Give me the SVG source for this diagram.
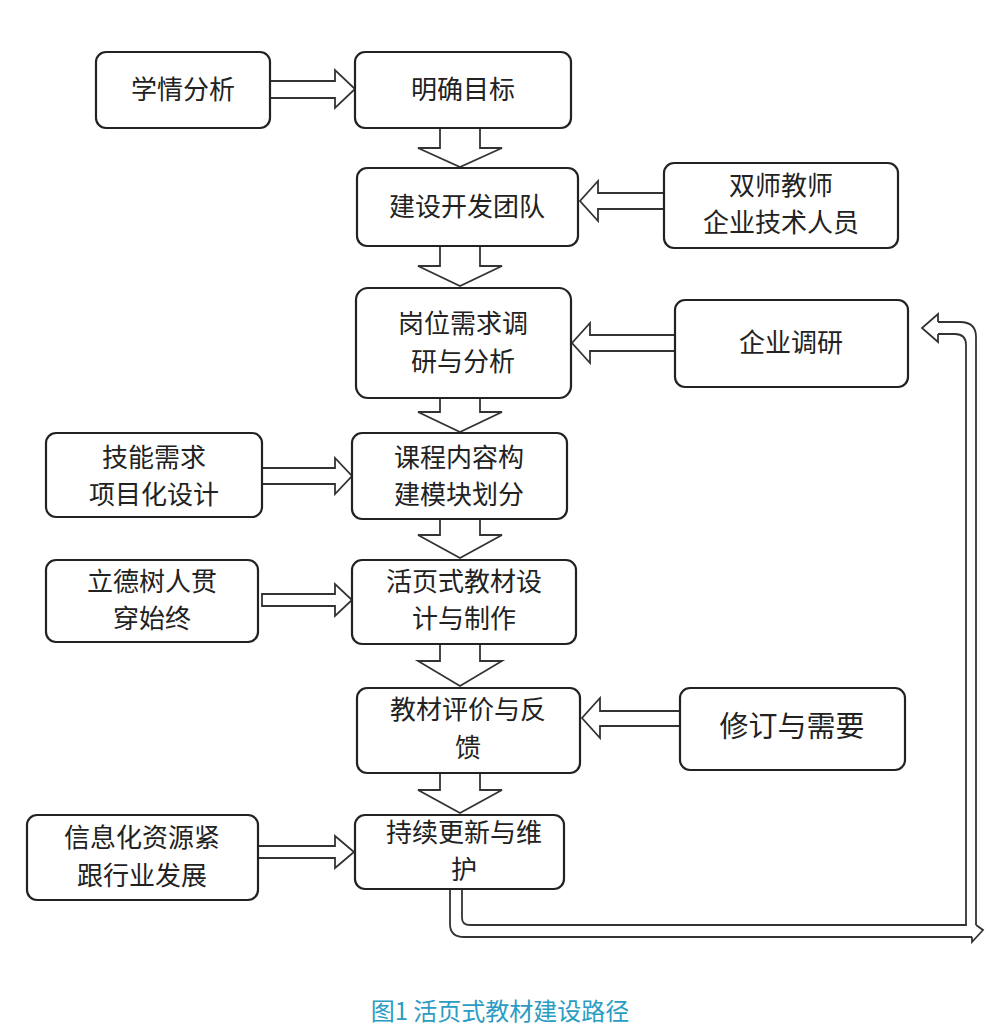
<svg xmlns="http://www.w3.org/2000/svg" width="1001" height="1036" viewBox="0 0 1001 1036">
<style>
.b{fill:#fff;stroke:#222;stroke-width:2.2}
.t{font-family:"Noto Sans CJK SC",sans-serif;font-size:26px;fill:#222;text-anchor:middle}
.a{fill:#fff;stroke:#333;stroke-width:1.8;stroke-linejoin:miter}
.l{fill:none;stroke:#333;stroke-width:1.8}
</style>
<rect width="1001" height="1036" fill="#fff"/>
<g id="connectors">
<path class="a" d="M270,81 H335 V70 L355,89 L335,108 V98 H270 Z"/>
<path class="a" d="M440,128 V148 H418 L460,167 L502,148 H480 V128 Z"/>
<path class="a" d="M440,246 V266 H418 L460,286 L502,266 H480 V246 Z"/>
<path class="a" d="M440,398 V412 H418 L460,432 L502,412 H480 V398 Z"/>
<path class="a" d="M440,519 V535 H418 L460,558 L502,535 H480 V519 Z"/>
<path class="a" d="M440,644 V661 H418 L460,686 L502,661 H480 V644 Z"/>
<path class="a" d="M440,773 V790 H418 L460,813 L502,790 H480 V773 Z"/>
<path class="a" d="M664,193 H598 V181 L580,201 L598,221 V209 H664 Z"/>
<path class="a" d="M675,335 H590 V323 L572,343 L590,363 V351 H675 Z"/>
<path class="a" d="M680,711 H600 V698 L582,718 L600,738 V726 H680 Z"/>
<path class="a" d="M262,468 H335 V458 L352,476 L335,494 V484 H262 Z"/>
<path class="a" d="M262,594 H335 V584 L352,600 L335,616 V606 H262 Z"/>
<path class="a" d="M258,846 H335 V836 L354,852 L335,868 V858 H258 Z"/>
<path class="l" d="M450,889 V924 Q450,937 464,937 H972"/>
<path class="l" d="M462,889 V918 Q462,925 470,925 H966 V345 Q966,334 955,334 H938"/>
<path class="l" d="M976,925 V337 Q976,322 960,322 H938"/>
<path class="l" d="M972,937 V942 L983,930 L976,925"/>
<path class="l" d="M938,334 V342 L922,328 L938,314 V322"/>
</g>
<g id="n1"><rect class="b" x="96" y="52" width="174" height="76" rx="10"/><text class="t" x="183" y="99">学情分析</text></g>
<g id="n2"><rect class="b" x="355" y="52" width="216" height="76" rx="10"/><text class="t" x="463" y="99">明确目标</text></g>
<g id="n3"><rect class="b" x="357" y="168" width="221" height="78" rx="10"/><text class="t" x="467" y="216">建设开发团队</text></g>
<g id="n4"><rect class="b" x="664" y="163" width="234" height="85" rx="10"/><text class="t" x="781" y="195">双师教师</text><text class="t" x="781" y="232">企业技术人员</text></g>
<g id="n5"><rect class="b" x="356" y="288" width="215" height="110" rx="12"/><text class="t" x="463" y="333">岗位需求调</text><text class="t" x="463" y="371">研与分析</text></g>
<g id="n6"><rect class="b" x="675" y="300" width="233" height="87" rx="10"/><text class="t" x="791" y="352">企业调研</text></g>
<g id="n7"><rect class="b" x="46" y="433" width="216" height="84" rx="10"/><text class="t" x="154" y="467">技能需求</text><text class="t" x="154" y="504">项目化设计</text></g>
<g id="n8"><rect class="b" x="352" y="433" width="215" height="86" rx="10"/><text class="t" x="459" y="467">课程内容构</text><text class="t" x="459" y="504">建模块划分</text></g>
<g id="n9"><rect class="b" x="46" y="560" width="212" height="82" rx="10"/><text class="t" x="152" y="591">立德树人贯</text><text class="t" x="152" y="628">穿始终</text></g>
<g id="n10"><rect class="b" x="352" y="560" width="224" height="84" rx="10"/><text class="t" x="464" y="591">活页式教材设</text><text class="t" x="464" y="628">计与制作</text></g>
<g id="n11"><rect class="b" x="357" y="688" width="223" height="85" rx="10"/><text class="t" x="468" y="719">教材评价与反</text><text class="t" x="468" y="757">馈</text></g>
<g id="n12"><rect class="b" x="680" y="688" width="225" height="82" rx="10"/><text class="t" x="792" y="737" style="font-size:29px">修订与需要</text></g>
<g id="n13"><rect class="b" x="27" y="815" width="231" height="85" rx="10"/><text class="t" x="142" y="847">信息化资源紧</text><text class="t" x="142" y="885">跟行业发展</text></g>
<g id="n14"><rect class="b" x="355" y="815" width="209" height="74" rx="10"/><text class="t" x="464" y="842">持续更新与维</text><text class="t" x="464" y="879">护</text></g>
<text x="500" y="1020" style="font-family:'Noto Sans CJK SC',sans-serif;font-size:24px;fill:#2a9cc4;text-anchor:middle">图1 活页式教材建设路径</text>
</svg>
